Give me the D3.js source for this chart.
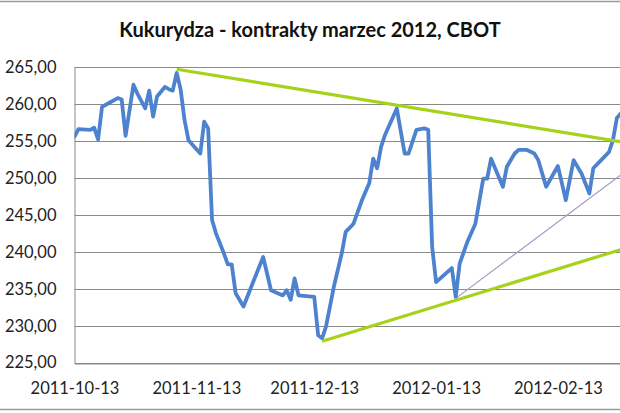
<!DOCTYPE html>
<html><head><meta charset="utf-8">
<script src="https://cdn.jsdelivr.net/npm/d3@7"></script>
<style>
html,body{margin:0;padding:0;background:#fff;}
svg{display:block;}
</style></head>
<body>
<svg id="chart" width="620" height="413"></svg>
<script>
const title = "Kukurydza - kontrakty marzec 2012, CBOT";

const dates = ["2011-10-13","2011-10-14","2011-10-17","2011-10-18","2011-10-19","2011-10-20","2011-10-22","2011-10-24","2011-10-25","2011-10-26","2011-10-28","2011-10-29","2011-10-31","2011-11-01","2011-11-02","2011-11-03","2011-11-05","2011-11-06","2011-11-07","2011-11-08","2011-11-09","2011-11-10","2011-11-11","2011-11-14","2011-11-15","2011-11-16","2011-11-17","2011-11-18","2011-11-20","2011-11-21","2011-11-22","2011-11-23","2011-11-25","2011-11-27","2011-11-30","2011-12-02","2011-12-05","2011-12-06","2011-12-07","2011-12-08","2011-12-09","2011-12-13","2011-12-14","2011-12-15","2011-12-16","2011-12-18","2011-12-20","2011-12-21","2011-12-23","2011-12-25","2011-12-27","2011-12-28","2011-12-29","2011-12-30","2011-12-31","2012-01-03","2012-01-05","2012-01-06","2012-01-08","2012-01-10","2012-01-11","2012-01-12","2012-01-13","2012-01-17","2012-01-18","2012-01-19","2012-01-21","2012-01-23","2012-01-25","2012-01-26","2012-01-27","2012-01-30","2012-01-31","2012-02-02","2012-02-03","2012-02-05","2012-02-07","2012-02-08","2012-02-10","2012-02-13","2012-02-15","2012-02-17","2012-02-19","2012-02-21","2012-02-22","2012-02-24","2012-02-26","2012-02-27","2012-02-28","2012-02-29"];
const prices = [255.6,256.6,256.5,256.8,255.2,259.6,260.2,260.8,260.6,255.7,262.6,261.4,259.4,261.8,258.3,261.0,262.3,262.0,261.8,264.2,262.0,257.8,255.1,253.3,257.6,256.7,244.3,242.5,239.8,238.3,238.3,234.4,232.6,235.3,239.3,234.8,234.1,234.8,233.5,236.4,234.1,233.9,228.7,228.3,229.9,235.3,239.8,242.7,243.8,246.8,249.3,252.6,251.3,254.2,255.8,259.4,253.3,253.3,256.5,256.7,256.5,240.7,235.9,237.8,233.9,238.4,241.4,243.8,249.9,249.9,252.6,248.8,251.5,253.3,253.8,253.8,253.3,252.4,248.8,251.6,247.0,252.4,250.6,247.9,251.3,252.4,253.5,255.1,258.1,258.7];

const resistDates = ["2011-11-08","2012-02-29"];
const resistVals = [264.7, 254.9];
const supportDates = ["2011-12-15","2012-02-29"];
const supportVals = [227.9, 240.3];
const innerDates = ["2012-01-18","2012-02-29"];
const innerVals = [233.7, 250.4];

const xTickLabels = ["2011-10-13","2011-11-13","2011-12-13","2012-01-13","2012-02-13"];
const yTicks = [225,230,235,240,245,250,255,260,265];

const parse = d3.utcParse("%Y-%m-%d");
const svg = d3.select("#chart");
const W = 620, H = 413;
const mLeft = 74.5, mRight = 620.8, mTop = 67, mBottom = 362.7;

const x = d3.scaleUtc().domain([parse("2011-10-13"), parse("2012-02-29")]).range([mLeft, mRight]);
const y = d3.scaleLinear().domain([225, 265]).range([mBottom, mTop]);

// chart border lines
svg.append("line").attr("x1",0).attr("x2",W).attr("y1",1.5).attr("y2",1.5).attr("stroke","#9a9a9a").attr("stroke-width",1.5);
svg.append("line").attr("x1",0).attr("x2",W).attr("y1",409.5).attr("y2",409.5).attr("stroke","#9a9a9a").attr("stroke-width",1.5);

// title
svg.append("text").attr("x",310).attr("y",37).attr("text-anchor","middle")
  .attr("font-family","Lato, 'Open Sans', sans-serif").attr("font-weight","bold").attr("font-size",20)
  .attr("fill","#111").text(title);

// gridlines
svg.append("g").selectAll("line").data(yTicks).join("line")
  .attr("x1",mLeft).attr("x2",W).attr("y1",d=>Math.round(y(d))+0.5).attr("y2",d=>Math.round(y(d))+0.5)
  .attr("stroke","#8a8a8a").attr("stroke-width",1);

// y axis
const fmt = d3.format(".2f");
const yAxis = svg.append("g").attr("transform",`translate(${mLeft},0)`)
  .call(d3.axisLeft(y).tickValues(yTicks).tickSize(0).tickPadding(18).tickFormat(d=>fmt(d).replace(".",",")));
yAxis.select(".domain").attr("stroke","#8a8a8a");
yAxis.selectAll("text").attr("font-family","Lato, 'Open Sans', sans-serif").attr("font-size",16.5).attr("fill","#222");

// x axis
const xAxis = svg.append("g").attr("transform",`translate(0,${Math.round(mBottom)+0.5})`)
  .call(d3.axisBottom(x).tickValues(xTickLabels.map(parse)).tickSize(0).tickPadding(19).tickFormat(d3.utcFormat("%Y-%m-%d")));
xAxis.select(".domain").attr("stroke","#8a8a8a");
xAxis.selectAll("text").attr("font-family","Lato, 'Open Sans', sans-serif").attr("font-size",16.5).attr("fill","#222");

// clip
svg.append("clipPath").attr("id","clip").append("rect").attr("x",mLeft).attr("y",0).attr("width",W-mLeft).attr("height",mBottom);
const plot = svg.append("g").attr("clip-path","url(#clip)");

const line = d3.line().x(d=>x(d[0])).y(d=>y(d[1]));

plot.append("path").datum(innerDates.map((d,i)=>[parse(d),innerVals[i]]))
  .attr("d",line).attr("fill","none").attr("stroke","#a898c8").attr("stroke-width",1.2);

plot.append("path").datum(dates.map((d,i)=>[parse(d),prices[i]]))
  .attr("d",line).attr("fill","none").attr("stroke","#4D82CF").attr("stroke-width",3.8)
  .attr("stroke-linejoin","round").attr("stroke-linecap","round");

plot.append("path").datum(resistDates.map((d,i)=>[parse(d),resistVals[i]]))
  .attr("d",line).attr("fill","none").attr("stroke","#A6D21A").attr("stroke-width",3.2);
plot.append("path").datum(supportDates.map((d,i)=>[parse(d),supportVals[i]]))
  .attr("d",line).attr("fill","none").attr("stroke","#A6D21A").attr("stroke-width",3.2);
</script>
</body></html>
